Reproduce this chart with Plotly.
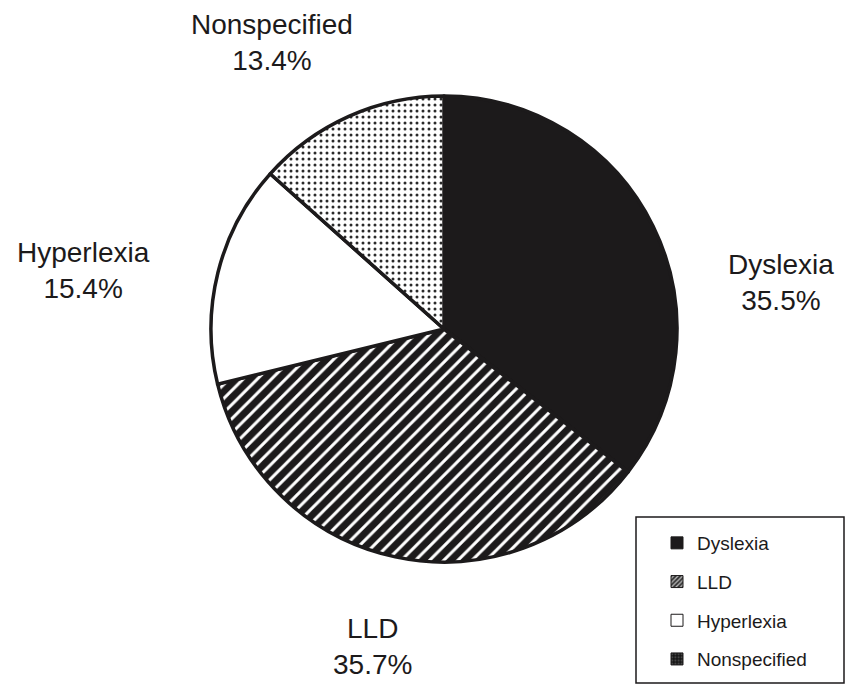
import plotly.graph_objects as go

categories = ["Dyslexia", "LLD", "Hyperlexia", "Nonspecified"]
shares = [35.5, 35.7, 15.4, 13.4]
label_text = ["Dyslexia<br>35.5%", "LLD<br>35.7%", "Hyperlexia<br>15.4%", "Nonspecified<br>13.4%"]

# styles
slice_shape = ["", "/", "", "."]
slice_fg = ["#1c1a1b", "#ffffff", "#ffffff", "#2a2a2a"]
slice_bg = ["#1c1a1b", "#1c1a1b", "#ffffff", "#ffffff"]
slice_size = [8, 10, 8, 6]
slice_solid = [0.3, 0.3, 0.3, 0.2]

legend_shape = ["", "/", "", "."]
legend_fg = ["#1c1a1b", "#bbbbbb", "#ffffff", "#444444"]
legend_bg = ["#1c1a1b", "#333333", "#ffffff", "#151515"]

W, H = 846, 685
cx, cy, r = 444, 329, 233

fig = go.Figure()
fig.add_trace(go.Pie(
    labels=categories, values=shares, sort=False, direction="clockwise", rotation=0,
    textinfo="none", hoverinfo="label+percent", showlegend=False,
    marker=dict(
        colors=slice_bg,
        line=dict(color="#1c1a1b", width=3.5),
        pattern=dict(shape=slice_shape, fgcolor=slice_fg, bgcolor=slice_bg,
                     size=slice_size, solidity=slice_solid, fillmode="replace"),
    ),
    domain=dict(x=[(cx - r) / W, (cx + r) / W], y=[(H - cy - r) / H, (H - cy + r) / H]),
))

for i, c in enumerate(categories):
    fig.add_trace(go.Bar(
        x=[None], y=[None], name=c, legendgroup=c, showlegend=True,
        marker=dict(color=legend_bg[i], line=dict(color="#1c1a1b", width=1),
                    pattern=dict(shape=legend_shape[i], fgcolor=legend_fg[i], bgcolor=legend_bg[i],
                                 size=4, solidity=0.4, fillmode="replace")),
    ))

label_pos = [(781, 282), (372, 646), (83, 270), (272, 43)]
for t, (px, py) in zip(label_text, label_pos):
    fig.add_annotation(text=t, x=px / W, y=(H - py) / H, xref="paper", yref="paper",
                       xanchor="center", yanchor="middle", showarrow=False,
                       font=dict(family="Liberation Sans, Arial, sans-serif", size=28, color="#1c1a1b"))

fig.add_shape(type="rect", xref="paper", yref="paper",
              x0=636 / W, x1=844 / W, y0=(H - 683) / H, y1=(H - 517) / H,
              line=dict(color="#1c1a1b", width=1.5), fillcolor="rgba(0,0,0,0)")

fig.update_layout(
    width=W, height=H, margin=dict(l=0, r=0, t=0, b=0),
    paper_bgcolor="white", plot_bgcolor="white",
    xaxis=dict(visible=False), yaxis=dict(visible=False),
    legend=dict(x=657 / W, y=(H - 524) / H, xanchor="left", yanchor="top",
                bgcolor="rgba(0,0,0,0)", borderwidth=0, tracegroupgap=11,
                font=dict(family="Liberation Sans, Arial, sans-serif", size=19, color="#1c1a1b")),
    font=dict(family="Liberation Sans, Arial, sans-serif"),
)

fig.write_html("out.html", config={"displayModeBar": False},
               post_script="document.body.style.margin='0px';document.body.style.padding='0px';")
